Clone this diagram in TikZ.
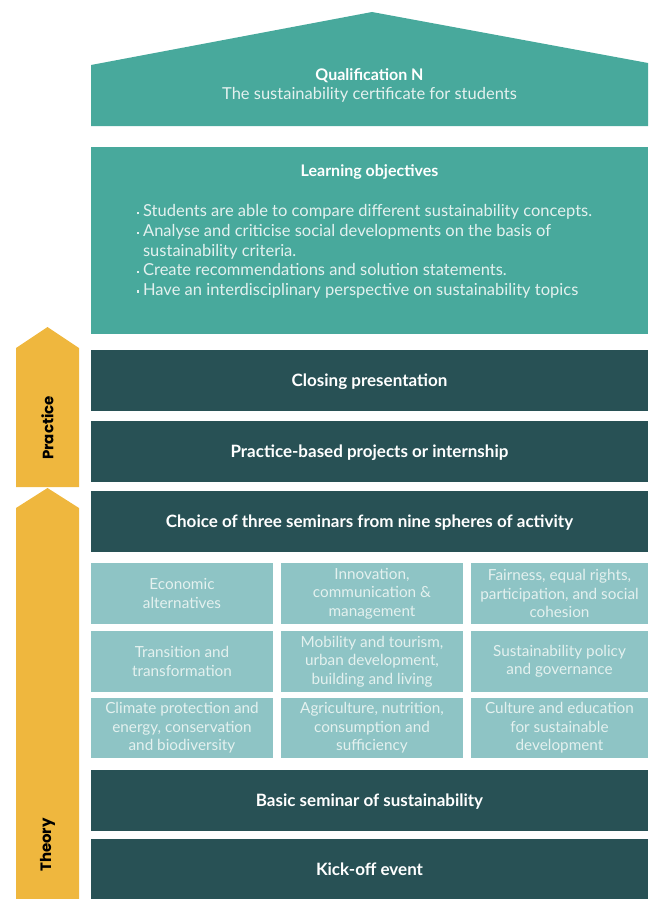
\documentclass[tikz,border=0pt]{standalone}
\usepackage{fontspec}
\setmainfont{Lato}
\newfontfamily\sidefont{Poppins}
\definecolor{teal1}{HTML}{48A99C}
\definecolor{dark1}{HTML}{285155}
\definecolor{light1}{HTML}{8EC4C5}
\definecolor{yellow1}{HTML}{EFB73E}
\definecolor{paper1}{HTML}{E4F1EF}
\newcommand{\objdot}{\raisebox{2.5pt}{\rule{2.4pt}{2.4pt}}\hspace{4pt}}

\begin{document}
\begin{tikzpicture}[x=1pt,y=-1pt,
  bar/.style={fill=dark1,text=white,font=\fontsize{17}{19}\selectfont\bfseries,
    minimum width=557pt,minimum height=61pt,inner sep=0pt,text depth=0pt},
  field/.style={fill=light1,text=paper1,font=\fontsize{15.3}{18.5}\selectfont,
    align=center,minimum height=61pt,inner sep=0pt},
  phaselabel/.style={rotate=90,font=\sidefont\fontsize{15}{17}\selectfont\bfseries}]

\useasboundingbox (0,0) rectangle (648,899);

% roof
\fill[teal1] (91,126) -- (91,65) -- (372,12) -- (648,63) -- (648,126) -- cycle;
\node[text=white,font=\fontsize{16}{18}\selectfont\bfseries] (qual) at (369.5,76) {Qualification N};
\node[text=paper1,font=\fontsize{16.5}{18}\selectfont] (cert) at (369.5,95) {The sustainability certificate for students};

% learning objectives
\node[fill=teal1,minimum width=557pt,minimum height=187pt,inner sep=0pt] (obj) at (369.5,240.5) {};
\node[text=white,font=\fontsize{16}{18}\selectfont\bfseries] (objtitle) at (369.5,172) {Learning objectives};
\node[text=paper1,font=\fontsize{16.5}{19.6}\selectfont,align=left,anchor=north west,inner sep=0pt] (objlist) at (136.5,204.5)
  {\objdot Students are able to compare different sustainability concepts.\\
   \objdot Analyse and criticise social developments on the basis of\\
   \hphantom{\objdot}sustainability criteria.\\
   \objdot Create recommendations and solution statements.\\
   \objdot Have an interdisciplinary perspective on sustainability topics};

% steps
\node[bar] (closing) at (369.5,380) {Closing presentation};
\node[bar] (projects) at (369.5,451.5) {Practice-based projects or internship};
\node[bar] (choice) at (369.5,521.5) {Choice of three seminars from nine spheres of activity};

% nine spheres
\node[field,minimum width=182pt] (econ) at (182,593.5) {Economic\\alternatives};
\node[field,minimum width=182pt] (innov) at (372,593.5) {Innovation,\\communication \&\\management};
\node[field,minimum width=177pt] (fair) at (559.5,593.5) {Fairness, equal rights,\\participation, and social\\cohesion};
\node[field,minimum width=182pt] (trans) at (182,661.5) {Transition and\\transformation};
\node[field,minimum width=182pt] (mobil) at (372,661.5) {Mobility and tourism,\\urban development,\\building and living};
\node[field,minimum width=177pt] (policy) at (559.5,661.5) {Sustainability policy\\and governance};
\node[field,minimum width=182pt,minimum height=60pt] (climate) at (182,728) {Climate protection and\\energy, conservation\\and biodiversity};
\node[field,minimum width=182pt,minimum height=60pt] (agri) at (372,728) {Agriculture, nutrition,\\consumption and\\sufficiency};
\node[field,minimum width=177pt,minimum height=60pt] (culture) at (559.5,728) {Culture and education\\for sustainable\\development};

\node[bar] (basic) at (369.5,800.5) {Basic seminar of sustainability};
\node[bar,minimum height=60pt] (kickoff) at (369.5,869) {Kick-off event};

% phases
\fill[yellow1] (16,487) -- (16,348) -- (47.5,327) -- (79,348) -- (79,487) -- cycle;
\node[phaselabel] (practice) at (47.5,428) {Practice};
\fill[yellow1] (16,899) -- (16,508) -- (47.5,488) -- (79,508) -- (79,899) -- cycle;
\node[phaselabel] (theory) at (47.5,845) {Theory};

\end{tikzpicture}
\end{document}
